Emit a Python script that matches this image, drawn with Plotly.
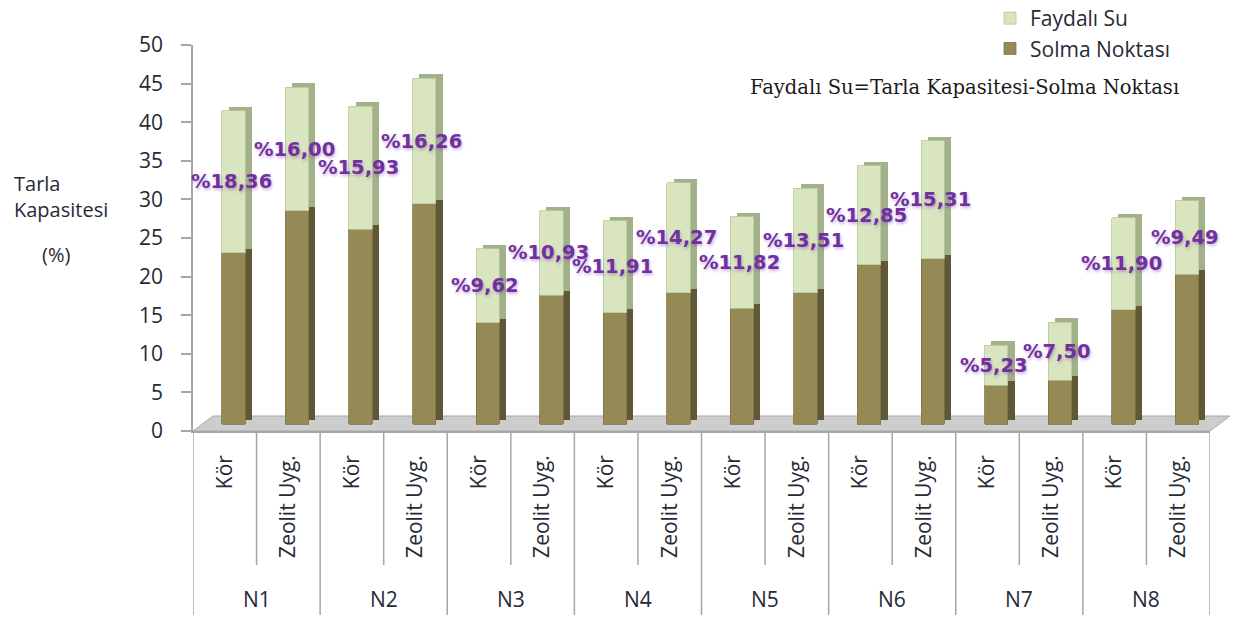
import plotly.graph_objects as go

# Treatment groups and sub-treatments
groups = ["N1", "N2", "N3", "N4", "N5", "N6", "N7", "N8"]
treatments = ["Kör", "Zeolit Uyg."]
bar_labels = [t for g in groups for t in treatments]

# Wilting point (Solma Noktası), % by volume
solma = [22.2, 27.6, 25.2, 28.5, 13.1, 16.7, 14.4, 17.0,
         15.0, 17.0, 20.6, 21.4, 5.0, 5.7, 14.8, 19.4]
# Available water (Faydalı Su) = field capacity - wilting point
faydali = [18.36, 16.00, 15.93, 16.26, 9.62, 10.93, 11.91, 14.27,
           11.82, 13.51, 12.85, 15.31, 5.23, 7.50, 11.90, 9.49]

FONT = "Open Sans"
TXT = "#262a36"
GRID = "#a6a6a6"
SOLMA_C = "#958a55"
SOLMA_SIDE = "#5f5735"
FAY_C = "#d8e5be"
FAY_SIDE = "#a3b18a"
LABEL_C = "#7030a0"

n = len(bar_labels)
xs = list(range(n))

# plot area geometry (px) used for the pseudo-3D depth shift
L, R, T, B = 193, 1210, 45, 431
px_per_unit = (B - T) / 50.0
front_shift = 7 / px_per_unit          # bars stand slightly behind the floor edge
back_shift = (7 + 4) / px_per_unit     # back face recedes a few px further


def py(px):
    """pixel row -> paper y"""
    return (B - px) / (B - T)


def pxx(px):
    """pixel column -> paper x"""
    return (px - L) / (R - L)


fig = go.Figure()

# keeps the value axis subplot alive (the visible 0-50 scale)
fig.add_trace(go.Scatter(x=[None], y=[None], yaxis="y", showlegend=False, hoverinfo="skip"))

# back faces (darker), give the bars a 3D depth
fig.add_trace(go.Bar(x=xs, y=solma, yaxis="y2", marker=dict(color=SOLMA_SIDE, line=dict(width=0)),
                     width=0.367, offset=0.06, showlegend=False, hoverinfo="skip"))
fig.add_trace(go.Bar(x=xs, y=faydali, yaxis="y2", marker=dict(color=FAY_SIDE, line=dict(width=0)),
                     width=0.367, offset=0.06, showlegend=False, hoverinfo="skip"))

# front faces
fig.add_trace(go.Bar(x=xs, y=solma, yaxis="y3", name="Solma Noktası", legendrank=2,
                     marker=dict(color=SOLMA_C, line=dict(color="#7d7345", width=0.8)),
                     width=0.367, offset=-0.046))
fig.add_trace(go.Bar(x=xs, y=faydali, yaxis="y3", name="Faydalı Su", legendrank=1,
                     marker=dict(color=FAY_C, line=dict(color="#b9c79d", width=0.8)),
                     width=0.367, offset=-0.046))

annotations = []
# value labels on the available-water segment
for i in range(n):
    annotations.append(dict(
        x=i + 0.1, y=solma[i] + faydali[i] / 2, xref="x", yref="y3",
        text="%" + f"{faydali[i]:.2f}".replace(".", ","), showarrow=False,
        font=dict(family="DejaVu Sans", size=19.5, color=LABEL_C, weight="bold",
                  shadow="1px 2px 3px rgba(112,48,160,0.35)"),
        xanchor="center", yanchor="middle"))

# group labels below the category labels
for g, name in enumerate(groups):
    annotations.append(dict(x=2 * g + 0.5, y=py(599), xref="x", yref="paper", text=name,
                            showarrow=False, font=dict(family=FONT, size=21, color=TXT),
                            xanchor="center", yanchor="middle"))

# axis title
annotations.append(dict(x=pxx(12), y=py(168), xref="paper", yref="paper",
                        text="Tarla<br>Kapasitesi", showarrow=False, align="left",
                        xanchor="left", yanchor="top",
                        font=dict(family=FONT, size=20, color=TXT)))
annotations.append(dict(x=pxx(56), y=py(255), xref="paper", yref="paper",
                        text="(%)", showarrow=False, xanchor="center", yanchor="middle",
                        font=dict(family=FONT, size=20, color=TXT)))
# formula note
annotations.append(dict(x=pxx(748), y=py(88), xref="paper", yref="paper",
                        text="Faydalı Su=Tarla Kapasitesi-Solma Noktası", showarrow=False,
                        xanchor="left", yanchor="middle",
                        font=dict(family="DejaVu Serif", size=19.5, color="#1a1a1a")))

shapes = []
# floor slab
x0b = 20 / (R - L)
yb = py(416)
shapes.append(dict(type="path", xref="paper", yref="paper", layer="below",
                   path=f"M 0 0 L 1 0 L {1 + x0b} {yb} L {x0b} {yb} Z",
                   fillcolor="#cdcdcd", line=dict(color="#a9a9a9", width=1)))
# dividers between sub-treatments
for g in range(len(groups)):
    shapes.append(dict(type="line", xref="x", yref="paper", x0=2 * g + 0.5, x1=2 * g + 0.5,
                       y0=0, y1=py(565), line=dict(color=GRID, width=1.5)))
# dividers between groups
for g in range(len(groups) + 1):
    xv = 2 * g - 0.5
    shapes.append(dict(type="line", xref="x", yref="paper", x0=xv, x1=xv,
                       y0=0, y1=py(615), line=dict(color=GRID, width=1.5)))

fig.update_layout(
    width=1233, height=622,
    margin=dict(l=L, r=1233 - R, t=T, b=622 - B, autoexpand=False),
    paper_bgcolor="white", plot_bgcolor="rgba(0,0,0,0)",
    barmode="stack",
    xaxis=dict(range=[-0.5, n - 0.5], tickmode="array", tickvals=xs, ticktext=bar_labels,
               tickangle=-90, ticks="", ticklabelstandoff=14, showgrid=False, zeroline=False,
               showline=True, linecolor=GRID, linewidth=1.5,
               tickfont=dict(family=FONT, size=21, color=TXT)),
    yaxis=dict(range=[0, 50], dtick=5, ticks="outside", ticklen=10, tickcolor=GRID,
               tickwidth=1.5, showline=True, linecolor=GRID, linewidth=1.5, showgrid=False,
               zeroline=False, ticklabelstandoff=14,
               tickfont=dict(family=FONT, size=21, color=TXT)),
    yaxis2=dict(range=[-back_shift, 50 - back_shift], overlaying="y", visible=False),
    yaxis3=dict(range=[-front_shift, 50 - front_shift], overlaying="y", visible=False),
    legend=dict(x=pxx(990), y=py(-2), xanchor="left", yanchor="top",
                traceorder="normal",
                font=dict(family=FONT, size=21, color=TXT), bgcolor="rgba(0,0,0,0)"),
    annotations=annotations,
    shapes=shapes,
)

fig.write_html("out.html")
